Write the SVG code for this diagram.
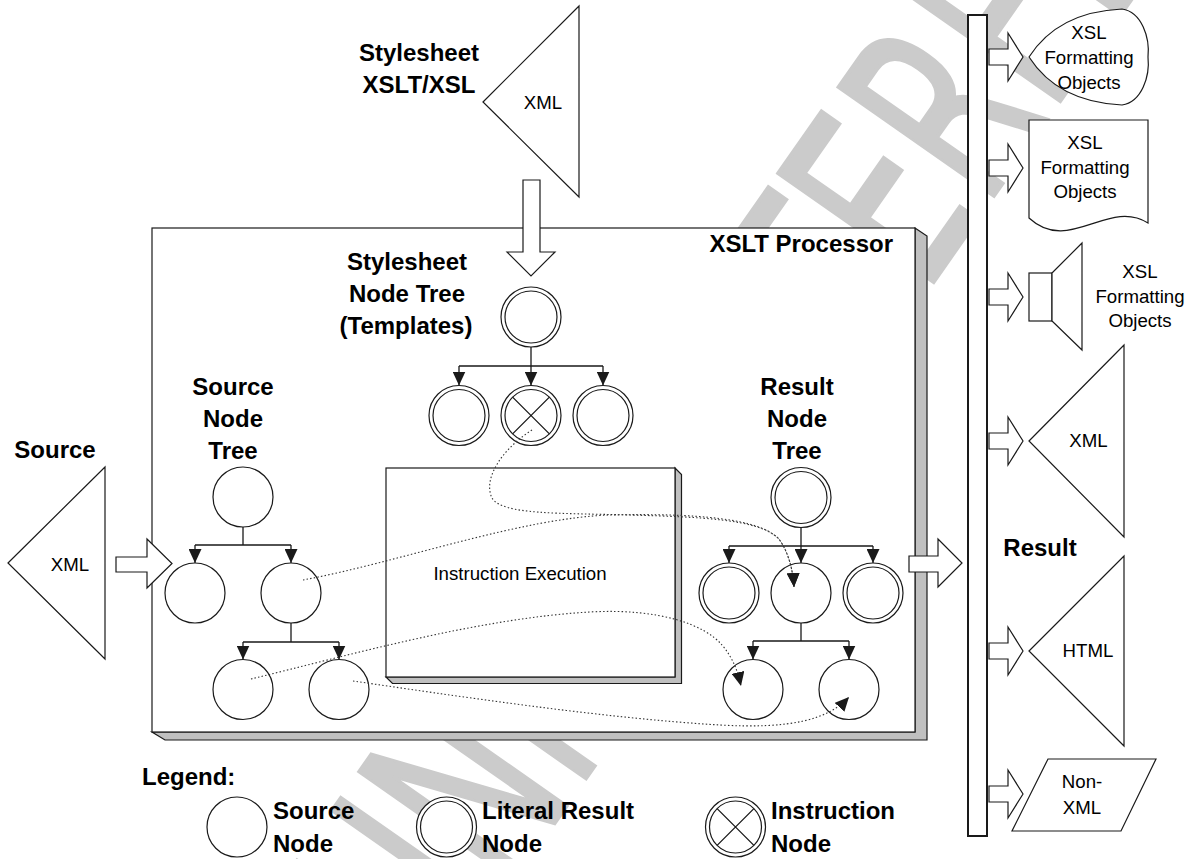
<svg xmlns="http://www.w3.org/2000/svg" xmlns:xlink="http://www.w3.org/1999/xlink" width="1193" height="859" viewBox="0 0 1193 859">
  <style>
    .wm { font-family: "DejaVu Sans", sans-serif; font-size: 260px; fill: #cbcbcb; stroke: #cbcbcb; stroke-width: 4; }
    .shape { fill: #fff; stroke: #1a1a1a; stroke-width: 1.2; }
    .shade { fill: #c0c0c0; stroke: #1a1a1a; stroke-width: 1.2; }
    .ln { fill: none; stroke: #1a1a1a; stroke-width: 1.3; }
    .arr { fill: none; stroke: #1a1a1a; stroke-width: 1.3; marker-end: url(#tri); }
    .dot { fill: none; stroke: #333; stroke-width: 1.1; stroke-dasharray: 1.5 2.2; marker-end: url(#tri); }
    .b { font-family: "Liberation Sans", Arial, sans-serif; font-weight: bold; font-size: 24px; fill: #000; }
    .t { font-family: "Liberation Sans", Arial, sans-serif; font-size: 18.67px; fill: #000; }
    .c { text-anchor: middle; }
  </style>
  <defs>
    <marker id="tri" markerUnits="userSpaceOnUse" markerWidth="14" markerHeight="13" refX="14" refY="6.5" orient="auto" viewBox="0 0 14 13">
      <path d="M0,0 L14,6.5 L0,13 Z" fill="#1a1a1a"/>
    </marker>
    <!-- small block arrow, tip at origin -->
    <path id="outArrow" class="shape" d="M-34,-8 H-15 V-24 L0,0 L-15,24 V8 H-34 Z"/>
    <circle id="single" class="shape" r="30"/>
    <g id="double">
      <circle class="shape" r="30"/>
      <circle class="shape" r="26"/>
    </g>
    <g id="instr">
      <use xlink:href="#double"/>
      <path class="ln" d="M-18.4,-18.4 L18.4,18.4 M18.4,-18.4 L-18.4,18.4" stroke-width="1"/>
    </g>
  </defs>

  <rect width="1193" height="859" fill="#fff"/>

  <!-- background watermark -->
  <text class="wm" transform="translate(435,994) rotate(-55) scale(0.64,1)">UNREGISTERED</text>

  <!-- stylesheet input -->
  <g id="stylesheet-input">
    <polygon class="shape" points="483,102 579,6 579,197"/>
    <text class="t c" x="543" y="109">XML</text>
    <text class="b c" x="419" y="61">Stylesheet</text>
    <text class="b c" x="419" y="93">XSLT/XSL</text>
  </g>

  <!-- source input -->
  <g id="source-input">
    <text class="b c" x="55" y="458">Source</text>
    <polygon class="shape" points="8,563 105,467 105,659"/>
    <text class="t c" x="70" y="571">XML</text>
  </g>

  <!-- processor frame -->
  <g id="processor">
    <polygon class="shade" points="915,228 927,236 927,740 165,740 152,732 915,732"/>
    <rect class="shape" x="152" y="228" width="763" height="504"/>
    <text class="b" x="893" y="252" text-anchor="end">XSLT Processor</text>
  </g>

  <g id="instruction-execution">
    <polygon class="shade" points="675,468 681.5,474.5 681.5,683.5 392.5,683.5 386,677 675,677"/>
    <rect class="shape" x="386" y="468" width="289" height="209"/>
    <text class="t c" x="520" y="580">Instruction Execution</text>
  </g>

  <!-- block arrows into and out of the processor -->
  <g id="flow-arrows">
    <polygon class="shape" points="523,180 540,180 540,252 555,252 531,276 507,252 523,252"/>
    <polygon class="shape" points="116,557 147,557 147,539 172,563.5 147,588 147,572 116,572"/>
    <polygon class="shape" points="909,556 938,556 938,539 962,563 938,587 938,572 909,572"/>
  </g>

  <!-- tree labels -->
  <g id="labels">
    <text class="b c" x="407" y="270">Stylesheet</text>
    <text class="b c" x="407" y="302">Node Tree</text>
    <text class="b c" x="406" y="334">(Templates)</text>
    <text class="b c" x="233" y="395">Source</text>
    <text class="b c" x="233" y="427">Node</text>
    <text class="b c" x="233" y="459">Tree</text>
    <text class="b c" x="797" y="395">Result</text>
    <text class="b c" x="797" y="427">Node</text>
    <text class="b c" x="797" y="459">Tree</text>
  </g>

  <!-- connectors -->
  <g id="connectors">
    <!-- stylesheet tree -->
    <path class="ln" d="M531,347 V366 M459,366 H603"/>
    <path class="arr" d="M459,366 V385.5"/>
    <path class="arr" d="M531,366 V385.5"/>
    <path class="arr" d="M603,366 V385.5"/>
    <!-- source tree -->
    <path class="ln" d="M243,527 V545 M195,545 H291"/>
    <path class="arr" d="M195,545 V563"/>
    <path class="arr" d="M291,545 V563"/>
    <path class="ln" d="M291,623 V642 M243,642 H339"/>
    <path class="arr" d="M243,642 V659.5"/>
    <path class="arr" d="M339,642 V659.5"/>
    <!-- result tree -->
    <path class="ln" d="M801,528 V546 M729,546 H873"/>
    <path class="arr" d="M729,546 V563"/>
    <path class="arr" d="M801,546 V563"/>
    <path class="arr" d="M873,546 V563"/>
    <path class="ln" d="M801,623 V641 M753,641 H849"/>
    <path class="arr" d="M753,641 V659.5"/>
    <path class="arr" d="M849,641 V659.5"/>
  </g>

  <!-- stylesheet node tree -->
  <g id="ss-root"><use xlink:href="#double" x="531" y="317"/></g>
  <g id="ss-left"><use xlink:href="#double" x="459" y="415.5"/></g>
  <g id="ss-instr"><use xlink:href="#instr" x="531" y="415.5"/></g>
  <g id="ss-right"><use xlink:href="#double" x="603" y="415.5"/></g>

  <!-- source node tree -->
  <g id="src-root"><use xlink:href="#single" x="243" y="497"/></g>
  <g id="src-left"><use xlink:href="#single" x="195" y="593"/></g>
  <g id="src-right"><use xlink:href="#single" x="291" y="593"/></g>
  <g id="src-gc-left"><use xlink:href="#single" x="243" y="689.5"/></g>
  <g id="src-gc-right"><use xlink:href="#single" x="339" y="689.5"/></g>

  <!-- result node tree -->
  <g id="res-root"><use xlink:href="#double" x="801" y="497.5"/></g>
  <g id="res-left"><use xlink:href="#double" x="729" y="593"/></g>
  <g id="res-mid"><use xlink:href="#single" x="801" y="593"/></g>
  <g id="res-right"><use xlink:href="#double" x="873" y="593"/></g>
  <g id="res-gc-left"><use xlink:href="#single" x="753" y="689.5"/></g>
  <g id="res-gc-right"><use xlink:href="#single" x="849" y="689.5"/></g>

  <!-- dotted transformation paths -->
  <g id="mapping">
    <path class="dot" d="M532,430 C505,447 482,477 492,498 C502,515 560,513 630,515 C700,517 758,519 778,538 C788,550 793,570 794,587"/>
    <path class="dot" d="M303,580 C400,562 520,518 610,515 C700,513 758,519 778,538 C788,550 793,570 794,587"/>
    <path class="dot" d="M251,679 C350,655 480,618 590,612 C660,608 705,625 722,645 C732,657 737,668 741,686"/>
    <path class="dot" d="M353,681 C450,695 600,718 720,725 C790,729 828,720 849,697"/>
  </g>

  <!-- output bus -->
  <g id="result-bus">
    <rect x="968" y="15" width="19" height="821" fill="#fff" stroke="#1a1a1a" stroke-width="2"/>
  </g>
  <g id="out-arrows">
    <use xlink:href="#outArrow" x="1023" y="57"/>
    <use xlink:href="#outArrow" x="1023" y="168"/>
    <use xlink:href="#outArrow" x="1023" y="297"/>
    <use xlink:href="#outArrow" x="1023" y="441"/>
    <use xlink:href="#outArrow" x="1023" y="651"/>
    <use xlink:href="#outArrow" x="1023" y="794"/>
  </g>

  <g id="out-display">
    <path class="shape" d="M1029,57 Q1058,12 1122,9 C1142,12 1150,38 1148,57 C1150,76 1142,102 1122,105 Q1058,102 1029,57 Z"/>
    <text class="t c" x="1089" y="38.5">XSL</text>
    <text class="t c" x="1089" y="63.5">Formatting</text>
    <text class="t c" x="1089" y="88.5">Objects</text>
  </g>
  <g id="out-document">
    <path class="shape" d="M1029,120 H1148 V223 C1108,198 1069,255 1029,218 Z"/>
    <text class="t c" x="1085" y="149">XSL</text>
    <text class="t c" x="1085" y="173.5">Formatting</text>
    <text class="t c" x="1085" y="198">Objects</text>
  </g>
  <g id="out-speaker">
    <rect class="shape" x="1029" y="273" width="23" height="48"/>
    <polygon class="shape" points="1052,273 1082,243 1082,350 1052,321"/>
    <text class="t c" x="1140" y="278">XSL</text>
    <text class="t c" x="1140" y="302.5">Formatting</text>
    <text class="t c" x="1140" y="327">Objects</text>
  </g>
  <g id="out-xml">
    <polygon class="shape" points="1029,441 1124,345 1124,537"/>
    <text class="t c" x="1088.5" y="447">XML</text>
  </g>
  <text class="b c" x="1040" y="556">Result</text>
  <g id="out-html">
    <polygon class="shape" points="1029,651 1124,556 1124,746"/>
    <text class="t c" x="1088" y="657">HTML</text>
  </g>
  <g id="out-nonxml">
    <polygon class="shape" points="1048,759 1156,759 1121,831 1012,831"/>
    <text class="t c" x="1082" y="788">Non-</text>
    <text class="t c" x="1082" y="814">XML</text>
  </g>

  <!-- legend -->
  <g id="legend">
    <text class="b" x="142" y="785">Legend:</text>
    <use xlink:href="#single" x="237" y="827"/>
    <text class="b" x="273" y="819">Source</text>
    <text class="b" x="273" y="852">Node</text>
    <use xlink:href="#double" x="446.5" y="827"/>
    <text class="b" x="482" y="819">Literal Result</text>
    <text class="b" x="482" y="852">Node</text>
    <use xlink:href="#instr" x="735.5" y="827"/>
    <text class="b" x="771" y="819">Instruction</text>
    <text class="b" x="771" y="852">Node</text>
  </g>
</svg>
